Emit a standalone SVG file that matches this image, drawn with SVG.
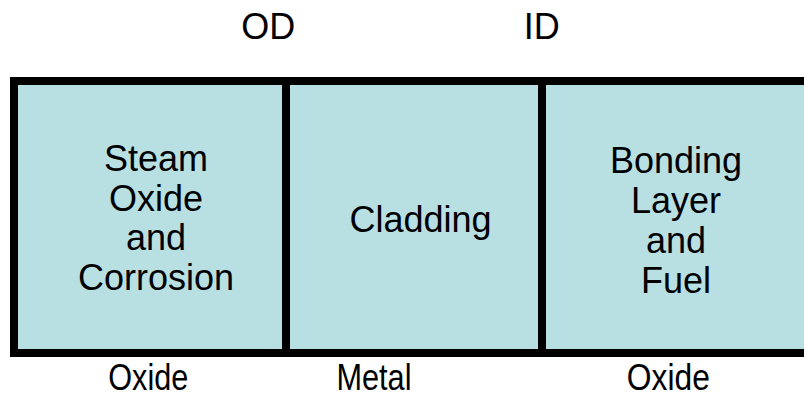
<svg xmlns="http://www.w3.org/2000/svg" width="804" height="395" viewBox="0 0 804 395">
  <style>
    .cell { fill: #B8DFE2; stroke: none; }
    .frame { fill: none; stroke: #000; stroke-width: 8; }
    .lbl { font-family: "Liberation Sans", Arial, sans-serif; font-size: 36px; fill: #000; text-anchor: middle; }
    .bot { font-size: 37px; }
  </style>
  <rect width="804" height="395" fill="#fff"/>
  <g id="cell-steam-oxide">
    <rect class="cell" x="14" y="81" width="272" height="272"/>
    <text class="lbl" x="156" y="171">Steam</text>
    <text class="lbl" x="156" y="210.5">Oxide</text>
    <text class="lbl" x="156" y="250">and</text>
    <text class="lbl" x="156" y="289.5">Corrosion</text>
  </g>
  <g id="cell-cladding">
    <rect class="cell" x="286" y="81" width="256" height="272"/>
    <text class="lbl" x="420.5" y="231.5">Cladding</text>
  </g>
  <g id="cell-bonding-fuel">
    <rect class="cell" x="542" y="81" width="272" height="272"/>
    <text class="lbl" x="676" y="172.5">Bonding</text>
    <text class="lbl" x="676" y="212.5">Layer</text>
    <text class="lbl" x="676" y="252.5">and</text>
    <text class="lbl" x="676" y="292.5">Fuel</text>
  </g>
  <g id="frame">
    <rect class="frame" x="14" y="81" width="800" height="272"/>
    <line class="frame" x1="286" y1="81" x2="286" y2="353"/>
    <line class="frame" x1="542" y1="81" x2="542" y2="353"/>
  </g>
  <g id="labels">
    <text class="lbl" x="268.3" y="39">OD</text>
    <text class="lbl" x="541.7" y="39">ID</text>
    <text class="lbl bot" x="148.3" y="390" textLength="80" lengthAdjust="spacingAndGlyphs">Oxide</text>
    <text class="lbl bot" x="374" y="390" textLength="75" lengthAdjust="spacingAndGlyphs">Metal</text>
    <text class="lbl bot" x="668.3" y="390" textLength="83" lengthAdjust="spacingAndGlyphs">Oxide</text>
  </g>
  <g id="connectors"></g>
</svg>
